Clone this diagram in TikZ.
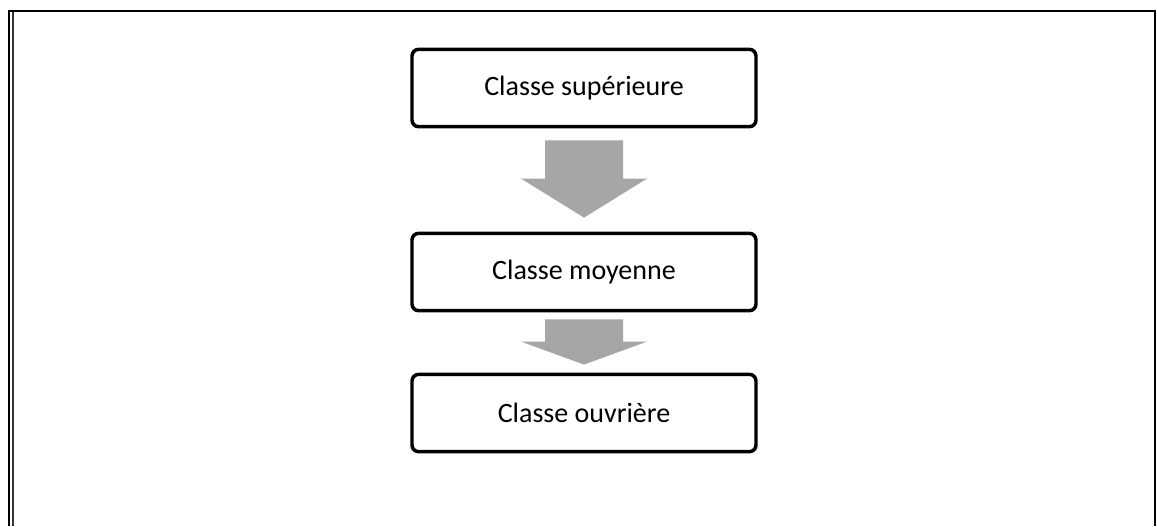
\documentclass[tikz,border=0pt]{standalone}
\usepackage{fontspec}
\setmainfont{Carlito}
\usetikzlibrary{calc}

\begin{document}
\begin{tikzpicture}[x=0.75pt, y=-0.75pt,
  classe/.style={draw, rounded corners=5pt, line width=2.6pt, minimum width=258pt, minimum height=58pt, font=\fontsize{21}{25}\selectfont},
  fleche/.style={fill=black!35}]
\useasboundingbox (0,0) rectangle (1157,526);
% cadre
\draw[line width=2.2pt] (9,526) -- (9,11) -- (1155,11) -- (1155,526);
\draw[line width=1.6pt, black!80] (13,526) -- (13,12);
% classes
\node[classe] (sup) at (584,88) {Classe supérieure};
\node[classe] (moy) at (584,272) {Classe moyenne};
\node[classe] (ouv) at (584,413) {Classe ouvrière};
% fleches
\fill[fleche] ($(sup.south)+(-39,12)$) -- ($(sup.south)+(39,12)$) -- ($(moy.north)+(39,-53)$) -- ($(moy.north)+(63,-53)$) -- ($(moy.north)+(0,-14)$) -- ($(moy.north)+(-63,-53)$) -- ($(moy.north)+(-39,-53)$) -- cycle;
\fill[fleche] ($(moy.south)+(-39,7)$) -- ($(moy.south)+(39,7)$) -- ($(ouv.north)+(39,-31)$) -- ($(ouv.north)+(63,-31)$) -- ($(ouv.north)+(0,-8)$) -- ($(ouv.north)+(-63,-31)$) -- ($(ouv.north)+(-39,-31)$) -- cycle;
\end{tikzpicture}
\end{document}
